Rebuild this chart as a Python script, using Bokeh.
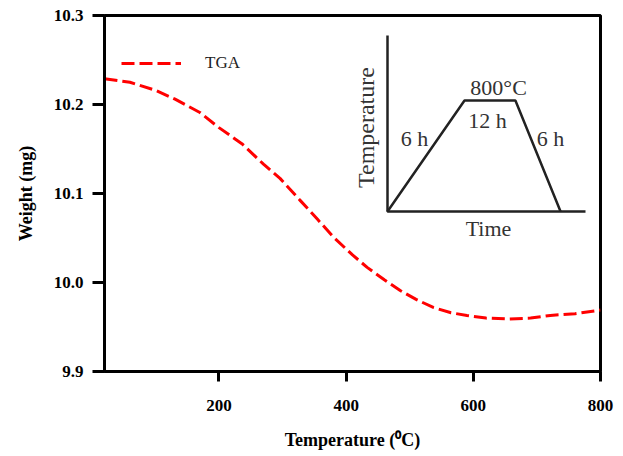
from bokeh.plotting import figure
from bokeh.models import Range1d, Legend, LegendItem, FixedTicker, ColumnDataSource, NumeralTickFormatter
from bokeh.core.properties import value
from bokeh.embed import file_html
from bokeh.resources import INLINE

# ---- data ----
temperature_c = [20, 60, 100, 131, 170, 200, 236, 270, 296, 328, 355, 380, 410, 433,
                 460, 485, 510, 537, 565, 590, 620, 654, 690, 721, 760, 800]
weight_mg = [10.229, 10.225, 10.216, 10.206, 10.191, 10.174, 10.156, 10.133, 10.117,
             10.092, 10.071, 10.051, 10.031, 10.017, 10.003, 9.991, 9.981, 9.972,
             9.966, 9.963, 9.960, 9.959, 9.960, 9.963, 9.965, 9.969]
x_ticks = [200, 400, 600, 800]
y_ticks = [9.9, 10.0, 10.1, 10.2, 10.3]
series_name = "TGA"

# inset: heating-profile schematic (inset box units, 0..1)
inset_axes_x = [0.0, 0.0, 1.0]
inset_axes_y = [1.0, 0.0, 0.0]
inset_profile_x = [0.0, 0.389, 0.646, 0.874]
inset_profile_y = [0.0, 0.631, 0.631, 0.0]
inset_labels = ["800°C", "12 h", "6 h", "6 h", "Time"]
inset_label_x = [0.561, 0.505, 0.136, 0.823, 0.510]
inset_label_y = [0.705, 0.517, 0.415, 0.415, -0.097]
inset_ylabel = "Temperature"

SERIF = "Liberation Serif"

p = figure(width=623, height=456, output_backend="svg", toolbar_location=None,
           x_range=Range1d(20, 800), y_range=Range1d(9.9, 10.3),
           min_border_left=104, min_border_right=23, min_border_top=15,
           min_border_bottom=85)
p.frame_width = 496
p.frame_height = 356

p.xgrid.visible = False
p.ygrid.visible = False
p.outline_line_color = "black"
p.outline_line_width = 3
p.background_fill_color = "white"
p.border_fill_color = "white"

for ax in (p.xaxis[0], p.yaxis[0]):
    ax.axis_line_width = 3
    ax.major_tick_line_width = 3
    ax.minor_tick_line_color = None
    ax.major_tick_in = 0
    ax.major_label_text_font = SERIF
    ax.major_label_text_font_style = "bold"
    ax.major_label_text_font_size = "17px"
    ax.major_label_text_color = "black"
    ax.axis_label_text_font = SERIF
    ax.axis_label_text_font_style = "bold"
    ax.axis_label_text_color = "black"

p.xaxis.ticker = FixedTicker(ticks=x_ticks)
p.yaxis.ticker = FixedTicker(ticks=y_ticks)
p.yaxis.formatter = NumeralTickFormatter(format="0.0")
p.xaxis.major_tick_out = 10
p.yaxis.major_tick_out = 12
p.xaxis.major_label_standoff = 18
p.yaxis.major_label_standoff = 9
p.xaxis.axis_label = "Temperature (\u2070C)"
p.yaxis.axis_label = "Weight (mg)"
p.xaxis.axis_label_text_font_size = "18px"
p.yaxis.axis_label_text_font_size = "18px"
p.xaxis.axis_label_standoff = 16
p.yaxis.axis_label_standoff = 15

src = ColumnDataSource(dict(t=temperature_c, w=weight_mg))
curve = p.line("t", "w", source=src, line_color="#ff0000", line_width=3, line_dash="13 5")

legend = Legend(items=[LegendItem(label=series_name, renderers=[curve])],
                location=(17, 298), glyph_width=60, glyph_height=20, label_standoff=24,
                padding=10, margin=0, border_line_color=None, background_fill_alpha=0,
                label_text_font=SERIF, label_text_font_size="17px", label_text_color="#222222")
p.add_layout(legend)

# inset coordinate system mapped onto the frame
px_per_x = 198.0
px_per_y = 176.0
ox, oy = 387 - 104, 371 - 211
p.extra_x_ranges = {"ix": Range1d(-ox / px_per_x, (496 - ox) / px_per_x)}
p.extra_y_ranges = {"iy": Range1d(-oy / px_per_y, (356 - oy) / px_per_y)}

p.line(inset_axes_x, inset_axes_y, x_range_name="ix", y_range_name="iy",
       line_color="#222222", line_width=2.5)
p.line(inset_profile_x, inset_profile_y, x_range_name="ix", y_range_name="iy",
       line_color="#222222", line_width=2.5)
p.text(inset_label_x, inset_label_y, text=inset_labels, x_range_name="ix", y_range_name="iy",
       text_font=value(SERIF), text_font_size="22px", text_color="#333333",
       text_align="center", text_baseline="middle")
p.text([-0.111], [0.477], text=[inset_ylabel], x_range_name="ix", y_range_name="iy",
       angle=1.5708, text_font=value(SERIF), text_font_size="24px", text_color="#333333",
       text_align="center", text_baseline="middle")

open("out.html", "w").write(file_html(p, INLINE))
